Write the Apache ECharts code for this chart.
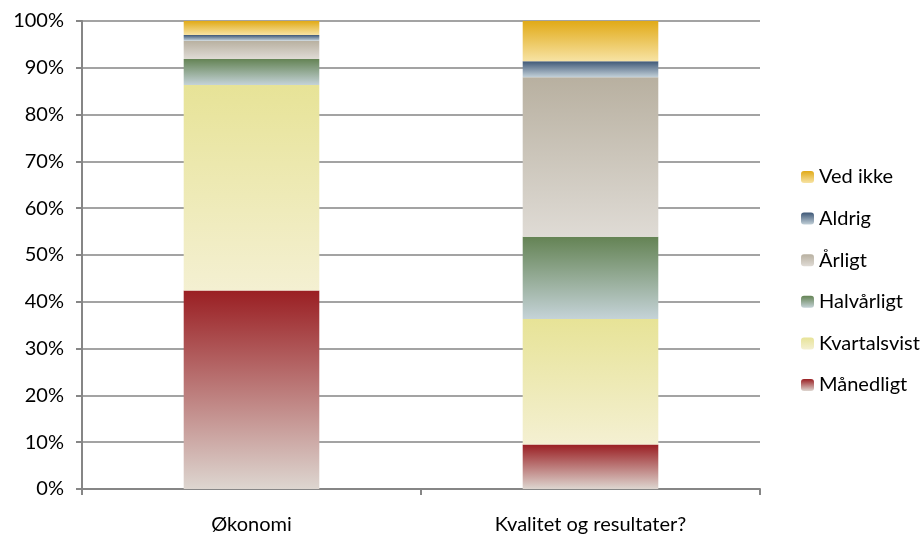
<!DOCTYPE html>
<html>
<head>
<meta charset="utf-8">
<script src="https://cdn.jsdelivr.net/npm/echarts@6/dist/echarts.min.js"></script>
<style>
  html, body { margin: 0; padding: 0; background: #fff; }
  #chart { width: 924px; height: 538px; }
</style>
</head>
<body>
<div id="chart"></div>
<script>
// Categories on the x axis
const categories = ['Økonomi', 'Kvalitet og resultater?'];

// Share of answers per frequency (percent), stacked bottom to top
const maanedligt   = [42.4, 9.5];
const kvartalsvist = [43.9, 26.8];
const halvaarligt  = [5.6, 17.6];
const aarligt      = [3.9, 34.1];
const aldrig       = [1.2, 3.4];
const vedIkke      = [3.0, 8.6];

const yTicks = [0, 10, 20, 30, 40, 50, 60, 70, 80, 90, 100];

const FONT = 'Lato, "Liberation Sans", sans-serif';

function grad(top, bottom) {
  return new echarts.graphic.LinearGradient(0, 0, 0, 1, [
    { offset: 0, color: top },
    { offset: 1, color: bottom }
  ]);
}

const seriesDefs = [
  { name: 'Månedligt',    data: maanedligt,   top: '#9a1f23', bottom: '#ddd6d0' },
  { name: 'Kvartalsvist', data: kvartalsvist, top: '#e7e397', bottom: '#f4f0d2' },
  { name: 'Halvårligt',   data: halvaarligt,  top: '#648354', bottom: '#c5d3d8' },
  { name: 'Årligt',       data: aarligt,      top: '#b8b0a0', bottom: '#dfdbd5' },
  { name: 'Aldrig',       data: aldrig,       top: '#3f5877', bottom: '#c2d0d8' },
  { name: 'Ved ikke',     data: vedIkke,      top: '#e1aa17', bottom: '#f7e3a4' }
];

const chart = echarts.init(document.getElementById('chart'), null, { renderer: 'canvas' });

chart.setOption({
  animation: false,
  backgroundColor: '#ffffff',
  grid: { left: 82, right: 164, top: 21, bottom: 49, containLabel: false },
  legend: {
    orient: 'vertical',
    left: 801,
    top: 167,
    padding: 0,
    itemWidth: 13,
    itemHeight: 12,
    itemGap: 21.6,
    itemStyle: { borderWidth: 0 },
    textStyle: { fontFamily: FONT, fontSize: 20, lineHeight: 20, color: '#000' },
    data: seriesDefs.map(s => s.name).reverse()
  },
  xAxis: {
    type: 'category',
    data: categories,
    axisLine: { lineStyle: { color: '#868686', width: 2 } },
    axisTick: { show: true, alignWithLabel: false, length: 6, lineStyle: { color: '#868686', width: 2 } },
    axisLabel: { fontFamily: FONT, fontSize: 20, color: '#000', margin: 26 }
  },
  yAxis: {
    type: 'value',
    min: yTicks[0],
    max: yTicks[yTicks.length - 1],
    interval: 10,
    axisLine: { show: true, lineStyle: { color: '#868686', width: 2 } },
    axisTick: { show: true, length: 6, lineStyle: { color: '#868686', width: 2 } },
    axisLabel: { fontFamily: FONT, fontSize: 20, color: '#000', margin: 18, formatter: v => v + '%' },
    splitLine: { show: true, lineStyle: { color: '#a3a3a3', width: 2 } }
  },
  series: seriesDefs.map(s => ({
    name: s.name,
    type: 'bar',
    stack: 'total',
    barWidth: '40%',
    data: s.data,
    itemStyle: { color: grad(s.top, s.bottom) },
    emphasis: { disabled: true }
  }))
});
</script>
</body>
</html>
